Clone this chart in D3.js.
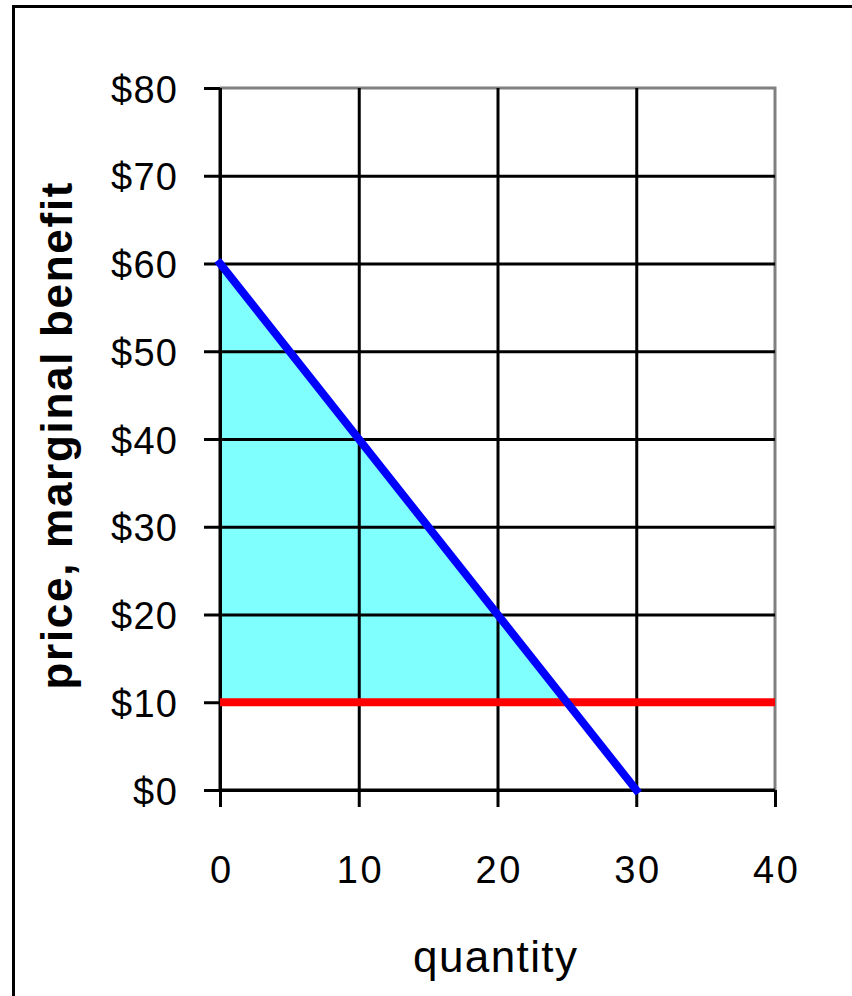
<!DOCTYPE html>
<html><head><meta charset="utf-8">
<script src="https://cdn.jsdelivr.net/npm/d3@7/dist/d3.min.js"></script>
<style>body{margin:0;background:#fff}svg{display:block}</style>
</head><body>
<script>
// ---- data ----
const xTicks = [0, 10, 20, 30, 40];
const yTicks = [0, 10, 20, 30, 40, 50, 60, 70, 80];
const demandQ = [0, 30];
const demandP = [60, 0];
const priceLevel = 10;
const surplusQ = [0, 25, 0];
const surplusP = [60, 10, 10];
const xTitle = "quantity";
const yTitle = "price, marginal benefit";

const W = 852, H = 996;
const svg = d3.select("body").append("svg").attr("width", W).attr("height", H);
svg.append("rect").attr("width", W).attr("height", H).attr("fill", "#fff");

// outer frame (only left & top visible)
svg.append("path").attr("d", `M13.5,996 L13.5,6.5 L852,6.5`).attr("fill", "none")
  .attr("stroke", "#000").attr("stroke-width", 3);

const x = d3.scaleLinear().domain([0, 40]).range([220, 775]);
const y = d3.scaleLinear().domain([0, 80]).range([790, 88]);

// plot border (gray)
svg.append("path").attr("d", `M${x(0)},${y(80)} L${x(40)},${y(80)} L${x(40)},${y(0)}`)
  .attr("fill", "none").attr("stroke", "#808080").attr("stroke-width", 3);

// surplus fill
const pts = surplusQ.map((q, i) => [x(q), y(surplusP[i])]);
svg.append("path").attr("d", "M" + pts.join("L") + "Z").attr("fill", "#80ffff");

// gridlines
const gx = svg.append("g").attr("transform", `translate(0,${y(0)})`)
  .call(d3.axisBottom(x).tickValues(xTicks).tickSize(-(y(0) - y(80))).tickFormat(""));
gx.select(".domain").remove();
gx.selectAll("line").attr("stroke", "#000").attr("stroke-width", 3)
  .filter(d => d === 40).remove();
const gy = svg.append("g").attr("transform", `translate(${x(0)},0)`)
  .call(d3.axisLeft(y).tickValues(yTicks).tickSize(-(x(40) - x(0))).tickFormat(""));
gy.select(".domain").remove();
gy.selectAll("line").attr("stroke", "#000").attr("stroke-width", 3)
  .filter(d => d === 80).remove();

// axes (ticks + labels)
const ax = svg.append("g").attr("transform", `translate(0,${y(0)})`)
  .call(d3.axisBottom(x).tickValues(xTicks).tickSize(17).tickPadding(0).tickFormat(d3.format("d")));
ax.select(".domain").attr("stroke", "#000").attr("stroke-width", 3).attr("d", `M${x(0)},0H${x(40)}`);
ax.selectAll("line").attr("stroke", "#000").attr("stroke-width", 3);
ax.selectAll("text").attr("y", 93).attr("dy", null)
  .style("font-family", "'Liberation Sans', Arial, sans-serif").style("font-size", "38px").attr("fill", "#000")
  .attr("textLength", d => String(d).length * 22.5);

const ay = svg.append("g").attr("transform", `translate(${x(0)},0)`)
  .call(d3.axisLeft(y).tickValues(yTicks).tickSize(16).tickPadding(0).tickFormat(d => "$" + d));
ay.select(".domain").attr("stroke", "#000").attr("stroke-width", 3).attr("d", `M0,${y(0)}V${y(80)}`);
ay.selectAll("line").attr("stroke", "#000").attr("stroke-width", 3);
ay.selectAll("text").attr("x", -43).attr("dy", null).attr("y", 14).attr("text-anchor", "end")
  .style("font-family", "'Liberation Sans', Arial, sans-serif").style("font-size", "38px").attr("fill", "#000")
  .attr("textLength", d => ("$" + d).length * 22);

// red price line
svg.append("line").attr("x1", x(0)).attr("x2", x(40)).attr("y1", y(priceLevel)).attr("y2", y(priceLevel))
  .attr("stroke", "#ff0000").attr("stroke-width", 8);

// demand line
const line = d3.line().x(d => x(d[0])).y(d => y(d[1]));
svg.append("path").attr("d", line(demandQ.map((q, i) => [q, demandP[i]])))
  .attr("fill", "none").attr("stroke", "#0000ff").attr("stroke-width", 8).attr("stroke-linecap", "square");

// titles
svg.append("text").attr("x", 495).attr("y", 972).attr("text-anchor", "middle")
  .style("font-family", "'Liberation Sans', Arial, sans-serif").style("font-size", "44px")
  .attr("textLength", 164).text(xTitle);
svg.append("text").attr("transform", "translate(72,436) rotate(-90)").attr("text-anchor", "middle")
  .style("font-family", "'Liberation Sans', Arial, sans-serif").style("font-size", "44px").style("font-weight", "bold")
  .attr("textLength", 507).text(yTitle);
</script>
</body></html>
